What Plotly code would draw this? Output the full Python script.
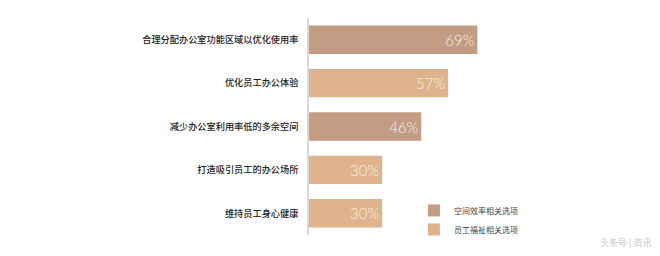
import plotly.graph_objects as go

categories = ["合理分配办公室功能区域以优化使用率", "优化员工办公体验", "减少办公室利用率低的多余空间",
              "打造吸引员工的办公场所", "维持员工身心健康"]
values = [69, 57, 46, 30, 30]
groups = ["空间效率相关选项", "员工福祉相关选项", "空间效率相关选项", "员工福祉相关选项", "员工福祉相关选项"]
series_names = ["空间效率相关选项", "员工福祉相关选项"]
series_colors = ["#C39C84", "#DFB48C"]

fig = go.Figure()
for name, color in zip(series_names, series_colors):
    xs = [v if g == name else None for v, g in zip(values, groups)]
    fig.add_trace(go.Bar(
        y=categories, x=xs, orientation="h", name=name,
        marker=dict(color=color, line=dict(width=0)),
        text=[f"{v}%" if v is not None else "" for v in xs],
        textposition="inside", insidetextanchor="end",
        textfont=dict(family="Lato", size=15, color="#F7EFE8", weight=300),
        hoverinfo="skip",
    ))

fig.update_layout(
    width=660, height=256,
    margin=dict(l=309, r=107, t=18, b=13),
    paper_bgcolor="white", plot_bgcolor="white",
    barmode="overlay", bargap=0.345,
    showlegend=True,
    legend=dict(x=0.43, y=0.18, xanchor="left", yanchor="top",
                font=dict(family="Noto Sans CJK SC", size=8, color="#444"),
                bgcolor="rgba(0,0,0,0)", tracegroupgap=0, itemwidth=30),
    xaxis=dict(range=[0, 100], visible=False, fixedrange=True),
    yaxis=dict(autorange="reversed", showline=True, linecolor="#D8D8D8", linewidth=1.5,
               showgrid=False, zeroline=False, ticks="", ticklabelstandoff=7,
               tickfont=dict(family="Noto Sans CJK SC", size=9.2, color="#222222", weight=500)),
    annotations=[dict(text="头条号 | 资讯", x=1, xref="paper", xanchor="right", xshift=100,
                      y=0, yref="paper", yanchor="middle", yshift=-7, showarrow=False,
                      font=dict(family="Noto Sans CJK SC", size=9, color="#C8C8C8"))],
)
fig.write_html("out.html")
